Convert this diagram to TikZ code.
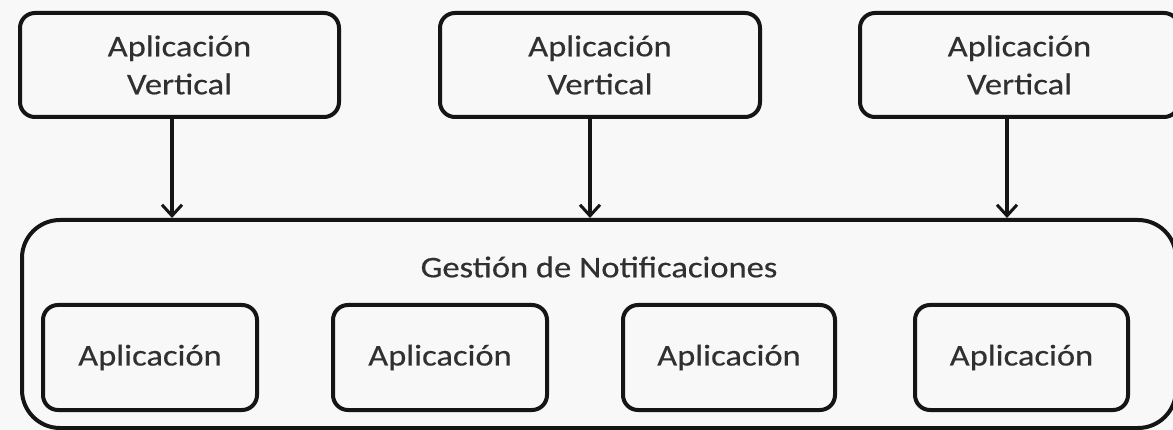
\documentclass[tikz,border=0pt]{standalone}
\usepackage{fontspec}
\setmainfont{Carlito}[FakeStretch=1.15,FakeBold=0.4]
\usetikzlibrary{arrows.meta}
\definecolor{bg}{HTML}{F8F8F8}
\definecolor{txt}{HTML}{303030}
\definecolor{ln}{HTML}{151515}
\begin{document}
\begin{tikzpicture}[x=1pt,y=-1pt,
  appbox/.style={draw=ln,line width=4pt,rounded corners=15pt,fill=bg,text=txt,
    align=center,inner sep=0pt,font=\fontsize{30}{38}\selectfont},
  bigbox/.style={draw=ln,line width=4pt,rounded corners=38pt,inner sep=0pt},
  label/.style={text=txt,inner sep=0pt,font=\fontsize{30}{38}\selectfont},
  conn/.style={draw=ln,line width=3.4pt,-{Straight Barb[length=11pt,width=20pt,line width=3pt]}}]
\fill[bg] (0,0) rectangle (1173,430);
\useasboundingbox (0,0) rectangle (1173,430);
\begin{scope}
\clip (0,0) rectangle (1173,430);
\node[bigbox,minimum width=1154pt,minimum height=208pt] (big) at (599,324) {};
\node[label] (title) at (599,267) {Gestión de Notificaciones};
\node[appbox,minimum width=319pt,minimum height=104pt] (v1) at (179.5,65) {Aplicación\\Vertical};
\node[appbox,minimum width=320pt,minimum height=104pt] (v2) at (600,65) {Aplicación\\Vertical};
\node[appbox,minimum width=319pt,minimum height=104pt] (v3) at (1019.5,65) {Aplicación\\Vertical};
\node[appbox,minimum width=214pt,minimum height=105pt] (a1) at (150,357.5) {Aplicación};
\node[appbox,minimum width=214pt,minimum height=105pt] (a2) at (440,357.5) {Aplicación};
\node[appbox,minimum width=212pt,minimum height=105pt] (a3) at (729,357.5) {Aplicación};
\node[appbox,minimum width=213pt,minimum height=105pt] (a4) at (1021.5,357.5) {Aplicación};
\draw[conn] ([xshift=-7.5pt]v1.south) -- ([xshift=-7.5pt]v1.south |- big.north);
\draw[conn] ([xshift=-10pt]v2.south) -- ([xshift=-10pt]v2.south |- big.north);
\draw[conn] ([xshift=-12.5pt]v3.south) -- ([xshift=-12.5pt]v3.south |- big.north);
\end{scope}
\end{tikzpicture}
\end{document}
